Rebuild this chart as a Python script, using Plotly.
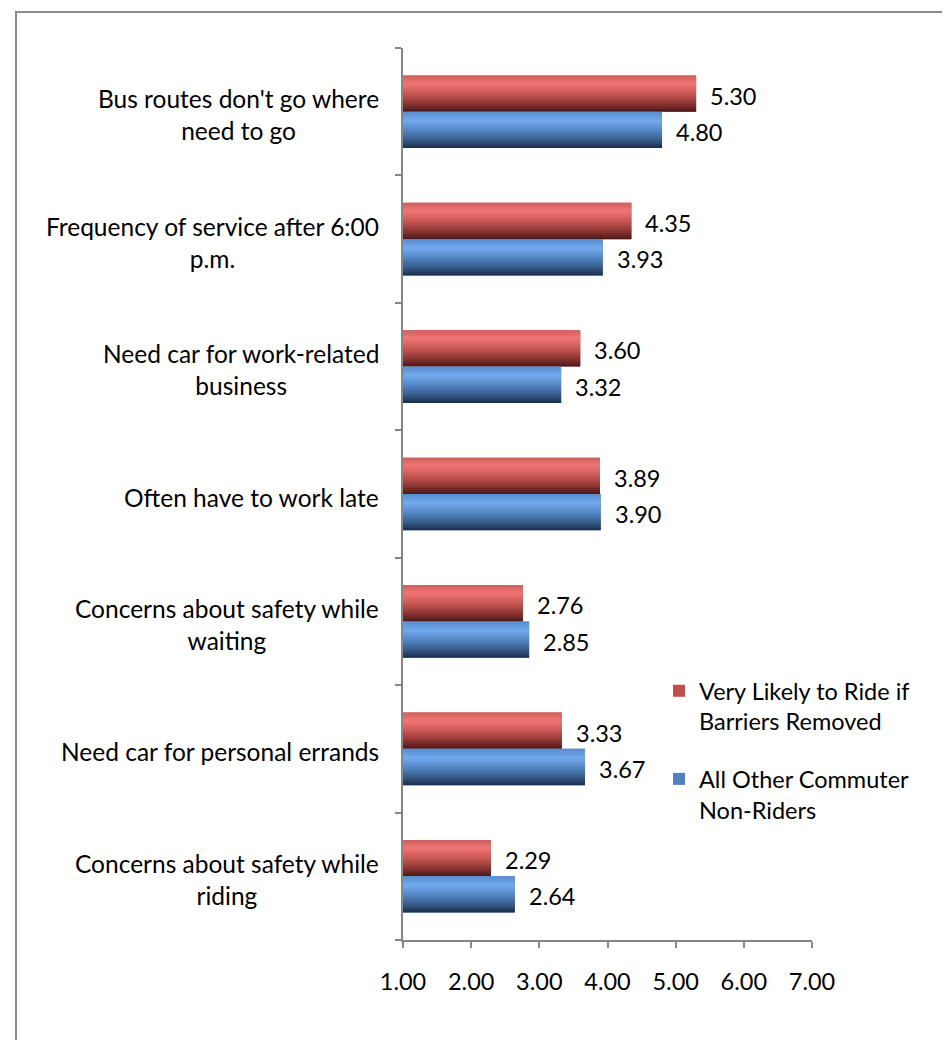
import plotly.graph_objects as go

categories = [
    "Bus routes don't go where<br>need to go",
    "Frequency of service after 6:00<br>p.m.",
    "Need car for work-related<br>business",
    "Often have to work late",
    "Concerns about safety while<br>waiting",
    "Need car for personal errands",
    "Concerns about safety while<br>riding",
]
series_names = ["Very Likely to Ride if<br>Barriers Removed", "All Other Commuter<br>Non-Riders"]
very_likely = [5.30, 4.35, 3.60, 3.89, 2.76, 3.33, 2.29]
all_other = [4.80, 3.93, 3.32, 3.90, 2.85, 3.67, 2.64]
x_ticks = [1, 2, 3, 4, 5, 6, 7]
x_tick_labels = ["1.00", "2.00", "3.00", "4.00", "5.00", "6.00", "7.00"]

FONT = "Lato"
FS_CAT = 24.5
FS = 23.5
BASE = 1.0
BW = 0.285
N = 18

red_stops = [(0.0, (205, 95, 92)), (0.22, (240, 118, 116)), (0.5, (200, 88, 85)),
             (0.8, (135, 50, 48)), (1.0, (75, 22, 22))]
blue_stops = [(0.0, (90, 140, 205)), (0.25, (114, 170, 238)), (0.5, (85, 136, 200)),
              (0.8, (52, 88, 135)), (1.0, (26, 44, 72))]


def grad(stops, t):
    for (t0, c0), (t1, c1) in zip(stops[:-1], stops[1:]):
        if t0 <= t <= t1:
            f = (t - t0) / (t1 - t0) if t1 > t0 else 0
            c = [round(a + (b - a) * f) for a, b in zip(c0, c1)]
            return "rgb(%d,%d,%d)" % tuple(c)
    return "rgb(%d,%d,%d)" % stops[-1][1]


ypos = list(range(len(categories)))
fig = go.Figure()

series = [
    (very_likely, "#c0504d", red_stops, -BW, series_names[0], "g1"),
    (all_other, "#4f81bd", blue_stops, 0.0, series_names[1], "g2"),
]

# base solid bars (also legend entries)
for vals, col, stops, off, name, grp in series:
    fig.add_trace(go.Bar(
        x=[v - BASE for v in vals], base=BASE, y=ypos, orientation="h",
        offset=off, width=BW, marker=dict(color=col, line=dict(width=0)),
        name=name, legendgroup=grp, showlegend=True, hoverinfo="skip",
    ))

# gradient strips
for vals, col, stops, off, name, grp in series:
    s = BW / N
    for k in range(N):
        o = off + k * s
        w = s * 1.5 if k < N - 1 else s
        fig.add_trace(go.Bar(
            x=[v - BASE for v in vals], base=BASE, y=ypos, orientation="h",
            offset=o, width=w, legendgroup=grp,
            marker=dict(color=grad(stops, (k + 0.5) / N), line=dict(width=0)),
            showlegend=False, hoverinfo="skip",
        ))

annotations = []
for vals, col, stops, off, name, grp in series:
    for i, v in enumerate(vals):
        annotations.append(dict(
            x=v, y=i + off + BW / 2, xref="x", yref="y", text="%.2f" % v,
            showarrow=False, xanchor="left", yanchor="middle", xshift=12, yshift=-2,
            font=dict(family=FONT, size=FS, color="black"),
        ))

for i, c in enumerate(categories):
    annotations.append(dict(
        x=0, y=i, xref="paper", yref="y", text=c, showarrow=False,
        xanchor="right", yanchor="middle", align="center", xshift=-22, yshift=-3,
        font=dict(family=FONT, size=FS_CAT, color="black"),
    ))

# figure pixel coordinates (page is offset by the 8px body margin)
L, R, T, B = 395, 804, 40, 932
W, H = 942, 1032
pw, ph = R - L, B - T

fig.update_layout(
    width=W, height=H,
    margin=dict(l=L, r=W - R, t=T, b=H - B),
    paper_bgcolor="white", plot_bgcolor="white",
    barmode="overlay",
    showlegend=True,
    legend=dict(
        x=(651 - L) / pw, y=(B - 661) / ph, xanchor="left", yanchor="top",
        font=dict(family=FONT, size=FS, color="black"),
        bgcolor="rgba(0,0,0,0)", tracegroupgap=24, itemwidth=30,
        traceorder="grouped", valign="top",
    ),
    font=dict(family=FONT, size=FS, color="black"),
    xaxis=dict(
        range=[1, 7], tickvals=x_ticks, ticktext=x_tick_labels,
        showgrid=False, zeroline=False, showline=True, linecolor="#868686", linewidth=1.5,
        ticks="outside", ticklen=6, tickcolor="#868686", tickwidth=1.5,
        ticklabelstandoff=14,
        tickfont=dict(family=FONT, size=FS, color="black"),
    ),
    yaxis=dict(
        range=[len(categories) - 0.5, -0.5], tickvals=ypos, ticktext=[""] * len(ypos),
        showgrid=False, zeroline=False, showline=True, linecolor="#868686", linewidth=1.5,
        ticks="", showticklabels=False,
        minor=dict(ticks="outside", ticklen=6, tickcolor="#868686", tickwidth=1.5,
                   tick0=-0.5, dtick=1, showgrid=False),
    ),
    annotations=annotations,
    shapes=[dict(
        type="rect", xref="paper", yref="paper",
        x0=(8 - L) / pw, x1=(937 - L) / pw,
        y0=(B - 1060) / ph, y1=(B - 4) / ph,
        line=dict(color="#8c8c8c", width=2), fillcolor="rgba(0,0,0,0)", layer="below",
    )],
)

fig.write_html("out.html")
